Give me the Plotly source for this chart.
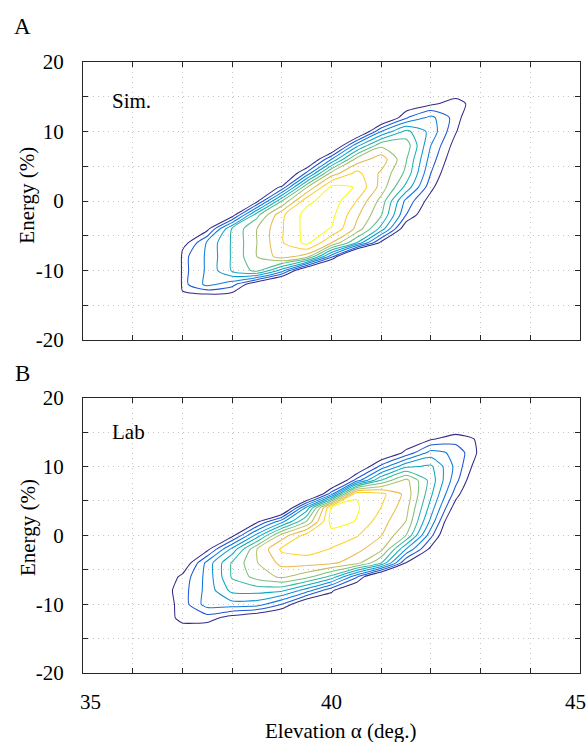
import plotly.graph_objects as go

# ---- Panel A: simulated distribution (elevation vs energy deviation) ----
elevation_a = [36.95, 37.0, 37.5, 38.0, 38.5, 39.0, 39.5, 40.0, 40.5, 41.0, 41.5, 42.0, 42.5, 43.0]
energy_a = [-14, -12, -10, -8, -6, -4, -2, 0, 2, 4, 6, 8, 10, 12, 14, 16]
density_a = [
    [0, 0.3, 0, 0, 0, 0, 0, 0, 0, 0, 0, 0, 0, 0],
    [0, 1.6, 3.3, 2.4, -0.2, -2.5, 0, 0, 0, 0, 0, 0, 0, 0],
    [0, 1.6, 3.19, 5.13, 6.3, 3.55, -1.17, -4, 0, 0, 0, 0, 0, 0],
    [0, 1.6, 3.19, 5.13, 7.0, 8.5, 7.5, 2.36, -3.8, 0, 0, 0, 0, 0],
    [0, 0.31, 3.19, 5.13, 7.0, 8.9, 10.3, 8.0, 5.0, 0.65, 0, 0, 0, 0],
    [0, 0, 0.64, 5.13, 7.0, 8.9, 10.4, 9.95, 7.75, 4.6, 0, 0, 0, 0],
    [0, 0, 0, 0.36, 5.67, 8.8, 10.4, 10.3, 8.25, 6.1, 2.0, -0.38, 0, 0],
    [0, 0, 0, 0, 0.68, 6.0, 9.7, 10.6, 9.0, 6.63, 2.71, 0.46, 0, 0],
    [0, 0, 0, 0, 0, 1.14, 6.9, 10.3, 9.95, 7.6, 4.7, 1.32, -0.97, 0],
    [0, 0, 0, 0, 0, -1.0, 2.22, 7.4, 9.3, 7.83, 5.75, 2.0, -0.5, 0],
    [0, 0, 0, 0, 0, 0, -1.0, 3.0, 7.33, 8.6, 6.1, 2.53, 0, 0],
    [0, 0, 0, 0, 0, 0, 0, -1.2, 3.58, 6.75, 6.6, 3.0, 0.5, 0],
    [0, 0, 0, 0, 0, 0, 0, 0, -1.2, 3.0, 5.3, 3.67, 1.09, -1.0],
    [0, 0, 0, 0, 0, 0, 0, 0, 0, -1.0, 1.86, 3.3, 1.55, -1.0],
    [0, 0, 0, 0, 0, 0, 0, 0, 0, 0, 0, 0.74, 1.6, 0.1],
    [0, 0, 0, 0, 0, 0, 0, 0, 0, 0, 0, 0, 0, 0],
]
levels_a = 10

# ---- Panel B: laboratory distribution ----
elevation_b = [36.5, 37.0, 37.5, 38.0, 38.5, 39.0, 39.5, 40.0, 40.5, 41.0, 41.5, 42.0, 42.5, 43.0]
energy_b = [-14, -12, -10, -8, -6, -4, -2, 0, 2, 4, 6, 8, 10, 12, 14, 16]
density_b = [
    [0, 0.3, 0, 0, 0, 0, 0, 0, 0, 0, 0, 0, 0, 0],
    [0, 1.4, 1.5, 0.46, -0.3, -1.0, 0, 0, 0, 0, 0, 0, 0, 0],
    [0, 1.47, 3.5, 3.6, 3.5, 2.0, -0.5, 0, 0, 0, 0, 0, 0, 0],
    [0.19, 1.54, 3.37, 5.3, 5.4, 5.2, 3.5, 1.18, -0.62, 0, 0, 0, 0, 0],
    [-0.5, 1.3, 3.37, 6.13, 7.4, 8.2, 7.36, 5.7, 2.23, -1.6, 0, 0, 0, 0],
    [0, -0.22, 3.37, 6.13, 7.95, 9.3, 9.4, 9.2, 8.42, 6.0, 0.95, 0, 0, 0],
    [0, 0, 0.63, 4.29, 7.98, 10.2, 10.5, 9.94, 9.3, 8.3, 3.98, 0.67, 0, 0],
    [0, 0, 0, 0.62, 4.38, 8.41, 10.4, 10.6, 10.1, 9.04, 6.98, 2.3, -1.5, 0],
    [0, 0, 0, 0, 0.71, 3.64, 7.09, 11.4, 10.95, 9.44, 7.98, 3.7, -1.12, 0],
    [0, 0, 0, 0, 0, -1.5, 4.33, 11.2, 11.15, 9.98, 8.37, 4.55, 0.32, 0],
    [0, 0, 0, 0, 0, 0, -2, 2.6, 10.9, 10.3, 8.7, 5.2, 1.5, -1.5],
    [0, 0, 0, 0, 0, 0, 0, -1.17, 2.33, 6.05, 8.3, 5.6, 2.33, -0.7],
    [0, 0, 0, 0, 0, 0, 0, 0, -0.56, 2.33, 4.8, 5.2, 2.7, 0.05],
    [0, 0, 0, 0, 0, 0, 0, 0, 0, -0.52, 1.29, 3.4, 2.75, 0.67],
    [0, 0, 0, 0, 0, 0, 0, 0, 0, 0, 0, 0.875, 1.5, 0.82],
    [0, 0, 0, 0, 0, 0, 0, 0, 0, 0, 0, 0, 0, 0],
]
levels_b = 11

# axis ticks
x_ticks = list(range(35, 46))
x_label_vals = [35, 40, 45]
x_label_text = ["35", "40", "45"]
y_ticks = [-20, -15, -10, -5, 0, 5, 10, 15, 20]
y_labels = ["-20", "", "-10", "", "0", "", "10", "", "20"]

# parula colour map anchors
parula = [
    (0 / 63, (0.2081, 0.1663, 0.5292)),
    (6 / 63, (0.1253, 0.3242, 0.8303)),
    (12 / 63, (0.0498, 0.4586, 0.8641)),
    (18 / 63, (0.0641, 0.5570, 0.8240)),
    (25 / 63, (0.0267, 0.6642, 0.7607)),
    (31 / 63, (0.1801, 0.7177, 0.6424)),
    (38 / 63, (0.4871, 0.7491, 0.4840)),
    (44 / 63, (0.7184, 0.7411, 0.3905)),
    (50 / 63, (0.9139, 0.7258, 0.3063)),
    (56 / 63, (0.9880, 0.8066, 0.1794)),
    (63 / 63, (0.9763, 0.9831, 0.0538)),
]
parula_scale = [
    [p, "rgb({:d},{:d},{:d})".format(int(round(r * 255)), int(round(g * 255)), int(round(b * 255)))]
    for p, (r, g, b) in parula
]

FONT = "Liberation Serif, Times New Roman, serif"
AXIS_COLOR = "#262626"
GRID_COLOR = "#c4c4c4"


def contour_trace(x, y, z, n_levels, xa, ya, smooth):
    return go.Contour(
        x=x, y=y, z=z,
        xaxis=xa, yaxis=ya,
        autocontour=False,
        contours=dict(start=1, end=n_levels, size=1, coloring="lines"),
        colorscale=parula_scale,
        showscale=False,
        line=dict(width=1.05, smoothing=smooth),
        hoverinfo="skip",
    )


fig = go.Figure()
fig.add_trace(contour_trace(elevation_a, energy_a, density_a, levels_a, "x", "y", 0.7))
fig.add_trace(contour_trace(elevation_b, energy_b, density_b, levels_b, "x2", "y2", 0.5))

common = dict(
    showline=True, linecolor=AXIS_COLOR, linewidth=1, mirror="ticks",
    ticks="inside", ticklen=5, tickwidth=1, tickcolor=AXIS_COLOR,
    showgrid=True, gridcolor=GRID_COLOR, gridwidth=1, griddash="1px,4px",
    zeroline=False, fixedrange=True,
    tickfont=dict(family=FONT, size=21, color="black"),
    ticklabelstandoff=14,
)

xa = dict(common, range=[35, 45], tickmode="array", tickvals=x_ticks, ticktext=[""] * len(x_ticks))
ya = dict(common, range=[-20, 20], tickmode="array", tickvals=y_ticks, ticktext=y_labels)

fig.update_layout(
    width=587, height=742,
    margin=dict(l=83, r=7, t=62, b=69),
    paper_bgcolor="white", plot_bgcolor="white",
    showlegend=False,
    xaxis=dict(xa, domain=[0, 1], anchor="y"),
    yaxis=dict(ya, domain=[0.545, 1], anchor="x"),
    xaxis2=dict(xa, domain=[0, 1], anchor="y2"),
    yaxis2=dict(ya, domain=[0, 0.4506], anchor="x2"),
    font=dict(family=FONT, size=21, color="black"),
)

ann_font = dict(family=FONT, size=21, color="black")
annotations = [
    dict(text="A", x=-0.1227, y=1.0573, xref="paper", yref="paper",
         xanchor="center", yanchor="middle", showarrow=False, font=dict(family=FONT, size=23, color="black")),
    dict(text="B", x=-0.1227, y=(673 - 373) / 611, xref="paper", yref="paper",
         xanchor="center", yanchor="middle", showarrow=False, font=dict(family=FONT, size=23, color="black")),
    dict(text="Energy (%)", x=-0.1117, y=0.782, xref="paper", yref="paper", textangle=-90,
         xanchor="center", yanchor="middle", showarrow=False, font=ann_font),
    dict(text="Energy (%)", x=-0.1117, y=0.238, xref="paper", yref="paper", textangle=-90,
         xanchor="center", yanchor="middle", showarrow=False, font=ann_font),
    dict(text="Elevation \u03b1 (deg.)", x=0.519, y=-0.095, xref="paper", yref="paper",
         xanchor="center", yanchor="middle", showarrow=False, font=ann_font),
    dict(text="Sim.", x=35.54, y=14.46, xref="x", yref="y",
         xanchor="left", yanchor="middle", showarrow=False, font=ann_font),
    dict(text="Lab", x=35.54, y=14.96, xref="x2", yref="y2",
         xanchor="left", yanchor="middle", showarrow=False, font=ann_font),
]
# bottom axis labels: end labels sit slightly inside the frame
label_shift = {35: 0.16, 40: 0.0, 45: -0.09}
for v, t in zip(x_label_vals, x_label_text):
    annotations.append(dict(text=t, x=v + label_shift[v], y=-0.0475, xref="x2", yref="paper",
                            xanchor="center", yanchor="middle", showarrow=False, font=ann_font))
fig.update_layout(annotations=annotations)

fig.write_html("out.html")
